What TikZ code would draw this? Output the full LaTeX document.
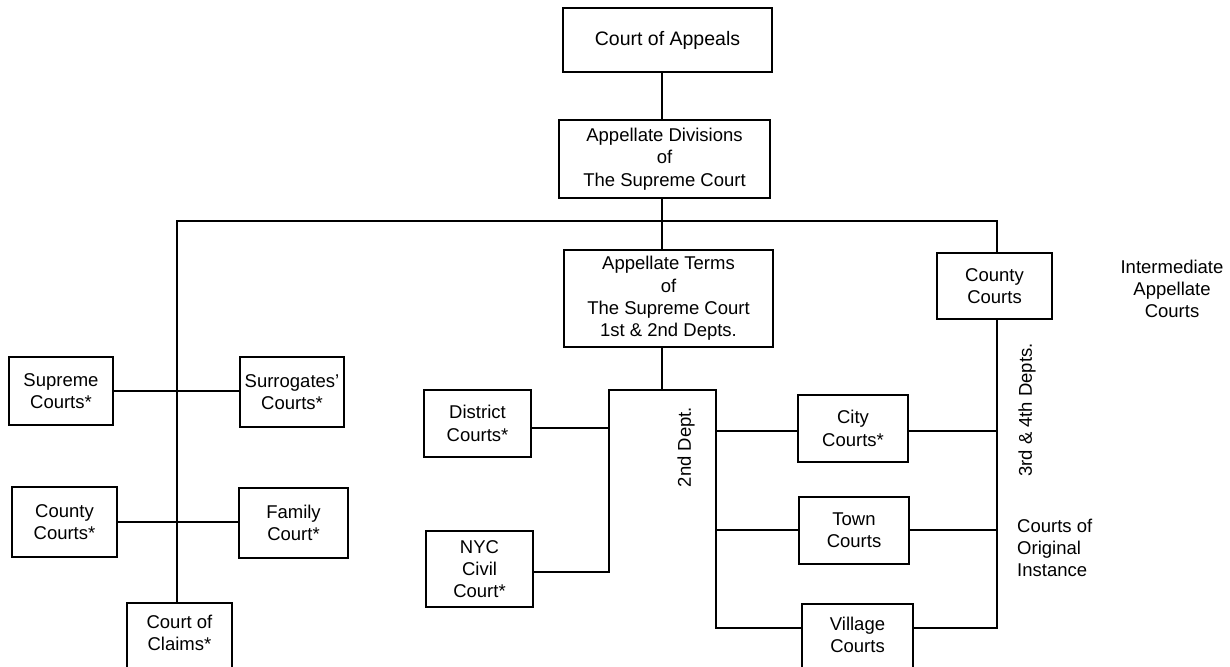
\documentclass[tikz,border=0pt]{standalone}
\usepackage{fontspec}
\setmainfont{Liberation Sans}
\begin{document}
\begin{tikzpicture}[x=1pt,y=-1pt,
  court/.style={draw, line width=1.8pt, align=center, inner sep=0pt,
    font=\fontsize{18.5}{22.3}\selectfont},
  note/.style={align=center, inner sep=0pt, font=\fontsize{18.5}{22.3}\selectfont},
  link/.style={line width=1.5pt}]

% page frame
\fill[white, use as bounding box] (0,0) rectangle (1230,666);
\clip (0,0) rectangle (1230,666);

% top of the hierarchy
\node[court, minimum width=209, minimum height=64, font=\fontsize{19.5}{22.3}\selectfont]
  (appeals) at (667.5,40) {Court of Appeals};
\node[court, minimum width=211, minimum height=78] (appdiv) at (664.5,159)
  {Appellate Divisions\\of\\The Supreme Court};
\node[court, minimum width=209, minimum height=97] (appterms) at (668.5,298.5)
  {Appellate Terms\\of\\The Supreme Court\\1st \& 2nd Depts.};
\node[court, minimum width=115, minimum height=66] (countyR) at (994.5,286) {County\\Courts};

% left group
\node[court, minimum width=104, minimum height=68] (supreme) at (61,391) {Supreme\\Courts*};
\node[court, minimum width=104, minimum height=70] (surrogates) at (292,392) {Surrogates'\\Courts*};
\node[court, minimum width=105, minimum height=70] (countyL) at (64.5,522) {County\\Courts*};
\node[court, minimum width=109, minimum height=70] (family) at (293.5,523) {Family\\Court*};
\node[court, minimum width=105, minimum height=100, anchor=north] (claims) at (179.5,602) {};
\node[note] (claimstext) at (179.5,633) {Court of\\Claims*};

% centre group
\node[court, minimum width=107, minimum height=67] (district) at (477.5,423.5) {District\\Courts*};
\node[court, minimum width=107, minimum height=76] (nyc) at (479.5,569) {NYC\\Civil\\Court*};

% right group
\node[court, minimum width=110, minimum height=67] (city) at (853,428.5) {City\\Courts*};
\node[court, minimum width=110, minimum height=67] (town) at (854,530.5) {Town\\Courts};
\node[court, minimum width=111, minimum height=100, anchor=north] (village) at (857.5,603) {};
\node[note] (villagetext) at (857.5,635) {Village\\Courts};

% side labels
\node[note, rotate=90] (dept2) at (686,447) {2nd Dept.};
\node[note, rotate=90] (dept34) at (1027,410) {3rd \& 4th Depts.};
\node[note] (intermediate) at (1172,289) {Intermediate\\Appellate\\Courts};
\node[note, align=left, anchor=west] (original) at (1017,548) {Courts of\\Original\\Instance};

% junction points of the connector tree
\coordinate (J) at (662,221);
\coordinate (L) at (177,221);
\coordinate (R) at (997,221);
\coordinate (T) at (662,390);
\coordinate (BL) at (609,390);
\coordinate (BR) at (716,390);
\coordinate (vy) at (0,628);

% connectors
\draw[link] (appeals.south -| J) -- (appdiv.north -| J);
\draw[link] (appdiv.south -| J) -- (appterms.north -| J);
\draw[link] (claims.north -| L) -- (L) -- (R) -- (countyR.north -| R);
\draw[link] (supreme.east) -- (supreme.east -| surrogates.west);
\draw[link] (countyL.east) -- (countyL.east -| family.west);
\draw[link] (appterms.south -| T) -- (T);
\draw[link] ([yshift=-4.5pt]district.east) -- ([yshift=-4.5pt]district.east -| BL);
\draw[link] ([yshift=-3pt]nyc.east) -- ([yshift=-3pt]nyc.east -| BL) -- (BL) -- (BR)
  -- (BR |- vy) -- (village.west |- vy);
\draw[link] ([yshift=-2.5pt]city.west) -- ([yshift=-2.5pt]city.west -| BR);
\draw[link] ([yshift=-2.5pt]city.east) -- ([yshift=-2.5pt]city.east -| R);
\draw[link] ([yshift=0.5pt]town.west) -- ([yshift=0.5pt]town.west -| BR);
\draw[link] ([yshift=0.5pt]town.east) -- ([yshift=0.5pt]town.east -| R);
\draw[link] (countyR.south -| R) -- (R |- vy) -- (village.east |- vy);
\end{tikzpicture}
\end{document}
